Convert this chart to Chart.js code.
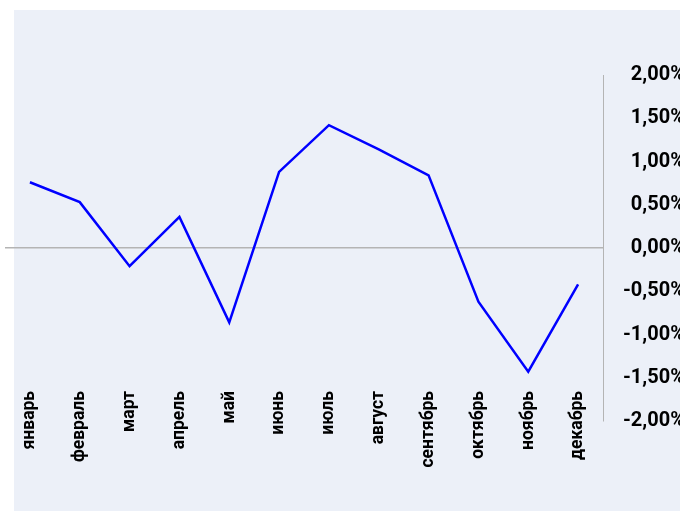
<!DOCTYPE html>
<html>
<head>
<meta charset="utf-8">
<script src="https://cdn.jsdelivr.net/npm/chart.js@4"></script>
<style>
  html, body { margin: 0; padding: 0; width: 680px; height: 511px; overflow: hidden; background: #ffffff; }
  #bg { position: absolute; left: 14px; top: 10px; right: 0; bottom: 0; background: #ecf0f8; }
  #chart { position: absolute; left: 0; top: 0; }
</style>
</head>
<body>
<div id="bg"></div>
<canvas id="chart" width="700" height="511"></canvas>
<script>
// Months and monthly change, %
const months = ['январь', 'февраль', 'март', 'апрель', 'май', 'июнь', 'июль', 'август', 'сентябрь', 'октябрь', 'ноябрь', 'декабрь'];
const values = [0.76, 0.53, -0.21, 0.36, -0.86, 0.88, 1.42, 1.14, 0.84, -0.62, -1.43, -0.42];
const yTicks = [-2, -1.5, -1, -0.5, 0, 0.5, 1, 1.5, 2];

const fmt = v => v.toFixed(2).replace('.', ',') + '%';

new Chart(document.getElementById('chart'), {
  type: 'line',
  data: {
    labels: months,
    datasets: [{
      data: values,
      borderColor: '#0000ff',
      borderWidth: 2.5,
      pointRadius: 0,
      tension: 0,
      fill: false
    }]
  },
  options: {
    responsive: false,
    animation: false,
    layout: { padding: { top: 75, left: 5, right: 15, bottom: 0 } },
    plugins: { legend: { display: false }, tooltip: { enabled: false } },
    scales: {
      x: {
        offset: true,
        grid: { display: false },
        border: { display: false },
        ticks: {
          minRotation: 90,
          maxRotation: 90,
          autoSkip: false,
          padding: -38,
          color: '#000000',
          font: { family: 'Roboto', size: 17.5, weight: 'bold' }
        },
        afterFit: s => {
          s.height = 90;
          // labels sit up inside the plot, so don't clip them to the axis box
          s._computeLabelArea = () => undefined;
        }
      },
      y: {
        position: 'right',
        min: -2,
        max: 2,
        afterBuildTicks: s => { s.ticks = yTicks.map(v => ({ value: v })); },
        grid: {
          drawTicks: false,
          color: c => c.tick && c.tick.value === 0 ? '#b4b4b4' : 'rgba(0,0,0,0)',
          lineWidth: 1.5
        },
        border: { display: true, color: '#b4b4b4', width: 1 },
        ticks: {
          crossAlign: 'far',
          padding: 3,
          color: '#000000',
          font: { family: 'Roboto', size: 20, weight: 'bold' },
          callback: v => fmt(v)
        },
        afterFit: s => { s.width = 82; }
      }
    }
  }
});
</script>
</body>
</html>
